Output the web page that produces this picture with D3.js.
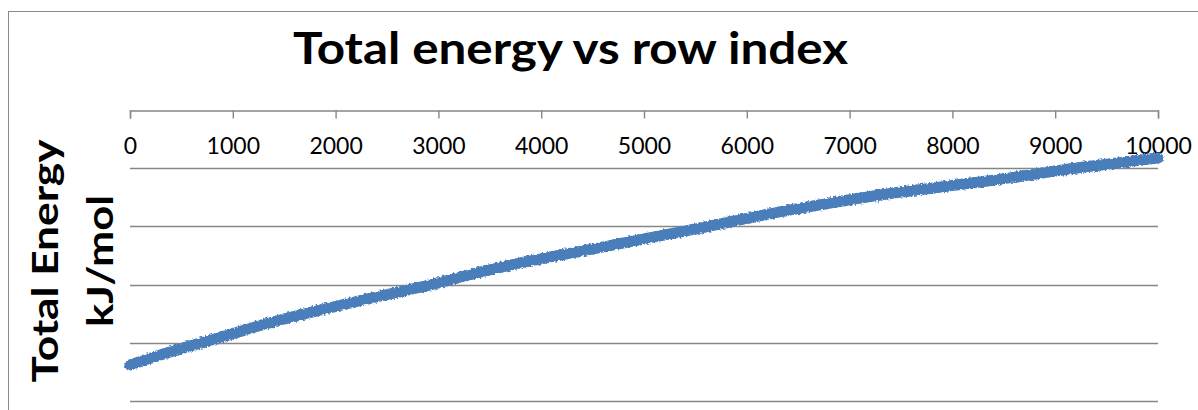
<!DOCTYPE html>
<html>
<head>
<meta charset="utf-8">
<script src="https://cdn.jsdelivr.net/npm/d3@7"></script>
<style>
  html, body { margin: 0; padding: 0; background: #ffffff; }
  svg { display: block; }
</style>
</head>
<body>
<svg id="chart" width="1198" height="410"></svg>
<script>
// Row index samples and the total energy (kJ/mol) at each one
const rowIndex = [0, 389, 875, 1265, 1848, 2335, 2792, 3599, 4543, 5545, 6323, 7296, 8268, 9212, 10000];
const totalEnergy = [-219000, -207900, -195500, -185200, -172000, -161800, -152900, -135200, -118600, -101400, -87600, -73000, -61900, -49800, -41200];

// Axis ticks
const xTicks = [0, 1000, 2000, 3000, 4000, 5000, 6000, 7000, 8000, 9000, 10000];
const yTicks = [0, -50000, -100000, -150000, -200000, -250000];

const titleText = "Total energy vs row index";
const yTitleLines = ["Total Energy", "kJ/mol"];

const svg = d3.select("#chart");
const font = "Lato, 'Open Sans', sans-serif";

// chart frame
svg.append("rect")
  .attr("x", 8.5).attr("y", 11.5)
  .attr("width", 1400).attr("height", 600)
  .attr("fill", "none").attr("stroke", "#8a8a8a").attr("stroke-width", 1);

const x = d3.scaleLinear().domain([0, 10000]).range([130, 1158]);
const y = d3.scaleLinear().domain([-250000, 0]).range([401, 110]);

// horizontal gridlines
svg.append("g")
  .selectAll("line")
  .data(yTicks.filter(v => v !== 0))
  .join("line")
  .attr("x1", x(0)).attr("x2", x(10000))
  .attr("y1", d => Math.round(y(d)) + 0.5)
  .attr("y2", d => Math.round(y(d)) + 0.5)
  .attr("stroke", "#868686").attr("stroke-width", 1.4);

// category axis sits at zero energy, along the top of the plot
const xAxis = d3.axisBottom(x)
  .tickValues(xTicks)
  .tickSize(8)
  .tickSizeOuter(8)
  .tickFormat(d3.format("d"));

const gx = svg.append("g")
  .attr("transform", `translate(0,${Math.round(y(0)) + 0.5})`)
  .call(xAxis);
gx.select(".domain").attr("stroke", "#868686").attr("stroke-width", 1.4);
gx.selectAll(".tick line").attr("stroke", "#868686").attr("stroke-width", 1.4);
gx.selectAll(".tick text")
  .attr("y", 43).attr("dy", null)
  .attr("fill", "#000")
  .style("font-family", font)
  .style("font-size", "23px");

// rough edge on the dense series line
const defs = svg.append("defs");
const filt = defs.append("filter").attr("id", "rough")
  .attr("x", "-5%").attr("y", "-20%").attr("width", "110%").attr("height", "140%");
filt.append("feTurbulence").attr("type", "fractalNoise")
  .attr("baseFrequency", "0.45").attr("numOctaves", 2).attr("seed", 3).attr("result", "noise");
filt.append("feDisplacementMap").attr("in", "SourceGraphic").attr("in2", "noise")
  .attr("scale", 4).attr("xChannelSelector", "R").attr("yChannelSelector", "G");

const points = rowIndex.map((r, i) => [r, totalEnergy[i]]);
const line = d3.line()
  .x(d => x(d[0]))
  .y(d => y(d[1]))
  .curve(d3.curveMonotoneX);

svg.append("path")
  .datum(points)
  .attr("d", line)
  .attr("fill", "none")
  .attr("stroke", "#4a7ebb")
  .attr("stroke-width", 11)
  .attr("stroke-linecap", "round")
  .attr("stroke-linejoin", "round")
  .attr("filter", "url(#rough)");

// chart title
svg.append("text")
  .attr("x", 293).attr("y", 64)
  .attr("textLength", 555).attr("lengthAdjust", "spacingAndGlyphs")
  .style("font-family", font).style("font-weight", 700).style("font-size", "44px")
  .attr("fill", "#000")
  .text(titleText);

// vertical axis title, two lines
const yTitleCenter = 261;
svg.append("text")
  .attr("transform", `translate(58,${yTitleCenter}) rotate(-90)`)
  .attr("text-anchor", "middle")
  .attr("textLength", 243).attr("lengthAdjust", "spacingAndGlyphs")
  .style("font-family", font).style("font-weight", 700).style("font-size", "36px")
  .attr("fill", "#000")
  .text(yTitleLines[0]);
svg.append("text")
  .attr("transform", `translate(113,${yTitleCenter}) rotate(-90)`)
  .attr("text-anchor", "middle")
  .attr("textLength", 132).attr("lengthAdjust", "spacingAndGlyphs")
  .style("font-family", font).style("font-weight", 700).style("font-size", "36px")
  .attr("fill", "#000")
  .text(yTitleLines[1]);
</script>
</body>
</html>
